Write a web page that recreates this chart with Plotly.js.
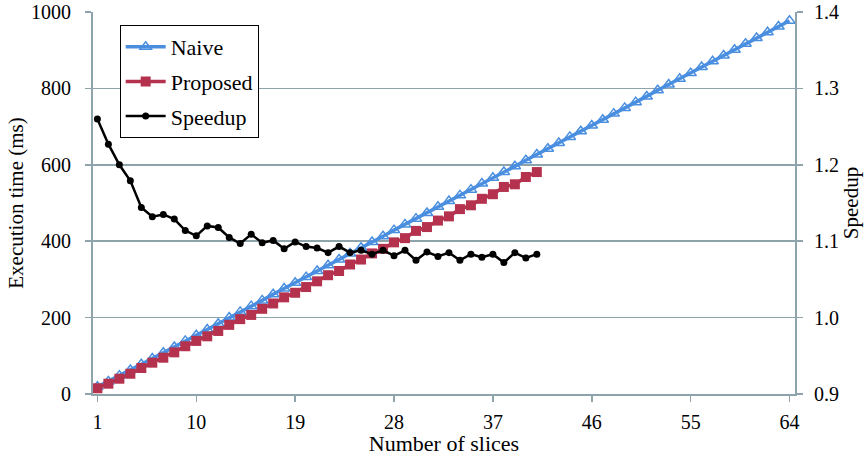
<!DOCTYPE html>
<html>
<head>
<meta charset="utf-8">
<script src="https://cdn.plot.ly/plotly-3.0.1.min.js"></script>
<style>html,body{margin:0;padding:0;background:#fff;}#chart{width:866px;height:456px;}</style>
</head>
<body>
<div id="chart"></div>
<script>
const slicesNaive = [];
for (let i = 1; i <= 64; i++) slicesNaive.push(i);
const slicesProposed = slicesNaive.slice(0, 41);

const naiveMs = [19, 33, 48, 63, 78, 93, 108, 123, 139, 154, 169, 184, 200, 215, 230, 245,
  261, 276, 291, 306, 322, 337, 352, 368, 383, 398, 413, 429, 444, 459, 474, 490,
  505, 520, 535, 551, 566, 581, 596, 612, 627, 642, 657, 673, 688, 703, 718, 734,
  749, 764, 779, 795, 810, 825, 840, 856, 871, 886, 901, 917, 932, 947, 962, 977];

const proposedMs = [15, 27, 40, 53, 68, 82, 95, 109, 125, 139, 151, 165, 181, 196, 207, 223,
  237, 253, 265, 280, 295, 311, 322, 339, 352, 368, 380, 397, 408, 427, 437, 454,
  465, 484, 494, 511, 523, 542, 549, 568, 581];

const speedup = [1.260, 1.227, 1.200, 1.179, 1.144, 1.132, 1.135, 1.129, 1.114, 1.107,
  1.120, 1.118, 1.105, 1.097, 1.109, 1.098, 1.101, 1.090, 1.099, 1.093, 1.091, 1.085,
  1.093, 1.085, 1.088, 1.083, 1.088, 1.081, 1.088, 1.075, 1.086, 1.080, 1.085, 1.075,
  1.083, 1.079, 1.083, 1.072, 1.085, 1.078, 1.083];

const xTicks = [1, 10, 19, 28, 37, 46, 55, 64];

const axisColor = '#8fa3ab';
const fontFam = '"Liberation Serif", "Times New Roman", serif';

const traces = [
  {x: slicesNaive, y: naiveMs, name: 'Naive', type: 'scatter', mode: 'lines+markers',
   legendgroup: 'a',
   line: {color: '#4a8ee0', width: 3.5},
   marker: {symbol: 'triangle-up-open', size: 10, color: '#4a8ee0', line: {width: 1.5, color: '#5b9be8'}}},
  {x: slicesProposed, y: proposedMs, name: 'Proposed', type: 'scatter', mode: 'lines+markers',
   legendgroup: 'b',
   line: {color: '#b5324f', width: 3.5},
   marker: {symbol: 'square', size: 10, color: '#b5324f'}},
  {x: slicesProposed, y: speedup, name: 'Speedup', type: 'scatter', mode: 'lines+markers',
   legendgroup: 'c',
   yaxis: 'y2',
   line: {color: '#000000', width: 2.5},
   marker: {symbol: 'circle', size: 7, color: '#000000'}}
];

const layout = {
  width: 866, height: 456,
  margin: {l: 93, r: 71, t: 12, b: 62},
  paper_bgcolor: '#ffffff', plot_bgcolor: '#ffffff',
  font: {family: fontFam, size: 20, color: '#000'},
  showlegend: true,
  legend: {x: 0.038, y: 0.966, xanchor: 'left', yanchor: 'top',
           bordercolor: '#000', borderwidth: 1, bgcolor: '#fff',
           font: {family: fontFam, size: 22}, tracegroupgap: 3, itemwidth: 40},
  xaxis: {range: [0.6, 64.5], tickvals: xTicks, ticktext: xTicks.map(String),
          showgrid: false, zeroline: false, showline: true, linecolor: axisColor, linewidth: 2,
          ticks: 'outside', ticklen: 6, tickcolor: axisColor, tickwidth: 1.5,
          ticklabelstandoff: 3,
          title: {text: 'Number of slices', font: {family: fontFam, size: 22}, standoff: 0},
          tickfont: {family: fontFam, size: 20}},
  yaxis: {range: [0, 1000], dtick: 200, tick0: 0,
          showgrid: true, gridcolor: axisColor, gridwidth: 1.5, zeroline: false,
          showline: true, linecolor: axisColor, linewidth: 2,
          ticks: 'outside', ticklen: 6, tickcolor: axisColor, tickwidth: 1.5,
          ticklabelstandoff: 10,
          title: {text: 'Execution time (ms)', font: {family: fontFam, size: 21}, standoff: 2},
          tickfont: {family: fontFam, size: 20}},
  yaxis2: {range: [0.9, 1.4], dtick: 0.1, tick0: 0.9, tickformat: '.1f',
           overlaying: 'y', side: 'right', showgrid: false, zeroline: false,
           showline: true, linecolor: axisColor, linewidth: 2,
           ticks: 'outside', ticklen: 6, tickcolor: axisColor, tickwidth: 1.5,
           ticklabelstandoff: 7,
           title: {text: 'Speedup', font: {family: fontFam, size: 21}, standoff: 4},
           tickfont: {family: fontFam, size: 20}}
};

Plotly.newPlot('chart', traces, layout, {displayModeBar: false, staticPlot: true});
</script>
</body>
</html>
